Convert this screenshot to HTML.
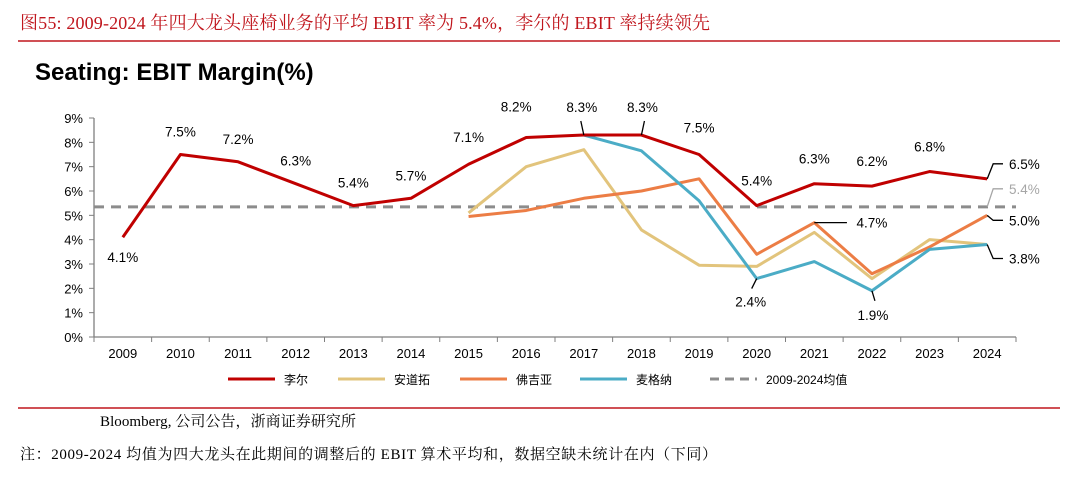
<!DOCTYPE html>
<html><head><meta charset="utf-8">
<style>
body{margin:0;background:#fff;width:1080px;height:477px;overflow:hidden;font-family:"Liberation Sans","Noto Sans CJK SC",sans-serif;}
svg{display:block}
</style></head>
<body>
<svg id="chart" width="1080" height="477">
  <text x="20" y="29" font-family="Liberation Serif, Noto Serif CJK SC, serif" font-size="18" fill="#c0161d" textLength="690" lengthAdjust="spacing">图55:  2009-2024 年四大龙头座椅业务的平均 EBIT 率为 5.4%，李尔的 EBIT 率持续领先</text>
  <line x1="18" y1="41" x2="1060" y2="41" stroke="#c0161d" stroke-width="1.5"/>
  <text x="35" y="80" font-size="24" font-weight="bold" fill="#000">Seating: EBIT Margin(%)</text>
  <g id="axes"></g>
  <g id="series"></g>
  <g id="labels"></g>
  <g id="legend"></g>
  <line x1="18" y1="408" x2="1060" y2="408" stroke="#c0161d" stroke-width="1.5"/>
  <text x="100" y="426" font-family="Liberation Serif, Noto Serif CJK SC, serif" font-size="15" fill="#000" textLength="256" lengthAdjust="spacing">Bloomberg, 公司公告，浙商证券研究所</text>
  <text x="20" y="459" font-family="Liberation Serif, Noto Serif CJK SC, serif" font-size="15" fill="#000" textLength="697" lengthAdjust="spacing">注：2009-2024 均值为四大龙头在此期间的调整后的 EBIT 算术平均和，数据空缺未统计在内（下同）</text>
</svg>
<script>
const years=[2009,2010,2011,2012,2013,2014,2015,2016,2017,2018,2019,2020,2021,2022,2023,2024];
const yTicks=[0,1,2,3,4,5,6,7,8,9];
const lear=[4.1,7.5,7.2,6.3,5.4,5.7,7.1,8.2,8.3,8.3,7.5,5.4,6.3,6.2,6.8,6.5];
const adient=[null,null,null,null,null,null,5.1,7.0,7.7,4.4,2.95,2.9,4.3,2.4,4.0,3.8];
const forvia=[null,null,null,null,null,null,4.95,5.2,5.7,6.0,6.5,3.4,4.7,2.6,3.7,5.0];
const magna=[null,null,null,null,null,null,null,null,8.3,7.65,5.6,2.4,3.1,1.9,3.6,3.8];
const avg=5.35;
const NS="http://www.w3.org/2000/svg";
const L=94,R=1016,Y0=337,Y9=118;
const step=(R-L)/years.length;
const x=i=>L+step*(i+0.5);
const y=v=>Y0-(Y0-Y9)*v/9;
function mk(tag,attrs,parent,text){const e=document.createElementNS(NS,tag);for(const k in attrs)e.setAttribute(k,attrs[k]);if(text!==undefined)e.textContent=text;parent.appendChild(e);return e;}
const axes=document.getElementById('axes');
let a=mk('line',{x1:L,y1:Y9,x2:L,y2:Y0,stroke:'#7f7f7f','stroke-width':1.3},axes);

a=mk('line',{x1:L,y1:Y0,x2:R,y2:Y0,stroke:'#7f7f7f','stroke-width':1.3},axes);

yTicks.forEach(t=>{
  mk('line',{x1:L-5,y1:y(t),x2:L,y2:y(t),stroke:'#7f7f7f'},axes);
  const tx=mk('text',{x:L-11,y:y(t)+5,'font-size':13,'text-anchor':'end',fill:'#000'},axes,t+'%');
  
});
for(let i=0;i<=years.length;i++) mk('line',{x1:L+step*i,y1:Y0,x2:L+step*i,y2:Y0+5,stroke:'#7f7f7f'},axes);
years.forEach((yr,i)=>{
  const tx=mk('text',{x:x(i),y:358,'font-size':13,'text-anchor':'middle',fill:'#000'},axes,yr);
  
});
const series=document.getElementById('series');
const av=mk('line',{x1:L,y1:y(avg),x2:R,y2:y(avg),stroke:'#8c8c8c','stroke-width':3,'stroke-dasharray':'10,7'},series);

function poly(arr,color,name){
  const pts=[];arr.forEach((v,i)=>{if(v!==null)pts.push(x(i)+','+y(v));});
  const p=mk('polyline',{points:pts.join(' '),fill:'none',stroke:color,'stroke-width':3,'stroke-linejoin':'round'},series);
  
}
poly(adient,'#e2c47c','adient-line');
poly(forvia,'#ec7d45','forvia-line');
poly(magna,'#4bacc6','magna-line');
poly(lear,'#c00000','lear-line');
const lab=document.getElementById('labels');
function label(tx,ty,s,col,anchor){const t=mk('text',{x:tx,y:ty,'font-size':13.5,'text-anchor':anchor||'middle',fill:col||'#000'},lab,s);
  }
function lead(pts,col){mk('polyline',{points:pts,fill:'none',stroke:col||'#000','stroke-width':1.3},lab);}
const learOff=[[0,25],[0,-18],[0,-18],[0,-18],[0,-18],[0,-18],[0,-22],[-10,-26],[0,0],[0,0],[0,-22],[0,-20],[0,-20],[0,-20],[0,-20],[0,0]];
lear.forEach((v,i)=>{if(i===8||i===9||i===15)return;label(x(i)+learOff[i][0],y(v)+learOff[i][1],v.toFixed(1)+'%');});
label(x(8)-2,y(lear[8])-23,lear[8].toFixed(1)+'%');lead(`${x(8)},${y(lear[8])} ${x(8)-3},${y(lear[8])-14}`);
label(x(9)+1,y(lear[9])-23,lear[9].toFixed(1)+'%');lead(`${x(9)},${y(lear[9])} ${x(9)+3},${y(lear[9])-14}`);
const tx0=1009,le=1003;
label(tx0,y(lear[15])-10,lear[15].toFixed(1)+'%','#000','start');lead(`${x(15)},${y(lear[15])} ${x(15)+6},${y(lear[15])-15} ${le},${y(lear[15])-15}`);
label(tx0,y(avg)-13,'5.4%','#a6a6a6','start');lead(`${x(15)},${y(avg)} ${x(15)+6},${y(avg)-18} ${le},${y(avg)-18}`,'#a6a6a6');
label(tx0,y(forvia[15])+10,forvia[15].toFixed(1)+'%','#000','start');lead(`${x(15)},${y(forvia[15])} ${x(15)+6},${y(forvia[15])+5} ${le},${y(forvia[15])+5}`);
label(tx0,y(magna[15])+19,magna[15].toFixed(1)+'%','#000','start');lead(`${x(15)},${y(magna[15])} ${x(15)+6},${y(magna[15])+14} ${le},${y(magna[15])+14}`);
label(x(13),y(forvia[12])+5,forvia[12].toFixed(1)+'%');lead(`${x(12)},${y(forvia[12])} ${x(13)-25},${y(forvia[12])}`);
label(x(11)-6,y(magna[11])+28,magna[11].toFixed(1)+'%');lead(`${x(11)},${y(magna[11])} ${x(11)-5},${y(magna[11])+10}`);
label(x(13)+1,y(magna[13])+29,magna[13].toFixed(1)+'%');lead(`${x(13)},${y(magna[13])} ${x(13)+3},${y(magna[13])+10}`);
const leg=document.getElementById('legend');
const legNames=['李尔','安道拓','佛吉亚','麦格纳','2009-2024均值'];
const legCols=['#c00000','#e2c47c','#ec7d45','#4bacc6','#8c8c8c'];
const legX=[228,338,460,580,710];
legNames.forEach((n,i)=>{
  const g=mk('g',{},leg);
  
  const ln={x1:legX[i],y1:379,x2:legX[i]+47,y2:379,stroke:legCols[i],'stroke-width':3};
  if(i===4)ln['stroke-dasharray']='9,6';
  mk('line',ln,g);
  mk('text',{x:legX[i]+56,y:384,'font-size':12,fill:'#000'},g,n);
});
</script>
</body></html>
